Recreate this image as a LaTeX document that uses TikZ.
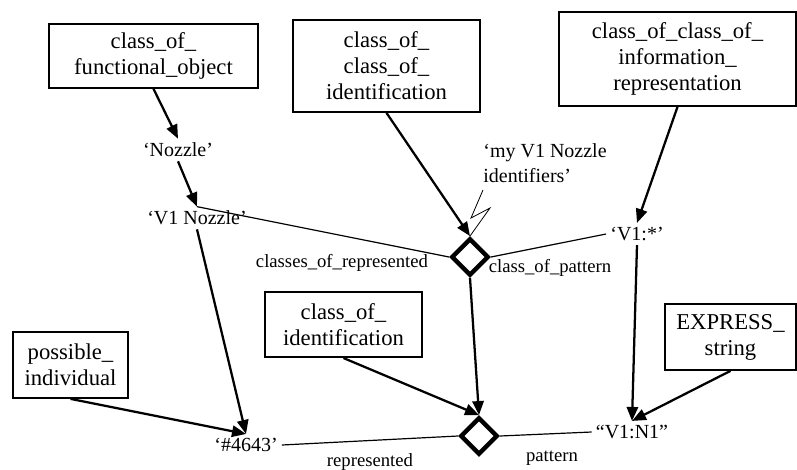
\documentclass[tikz,border=0pt]{standalone}
\usepackage{fontspec}
\setmainfont{Liberation Serif}
\usepackage{tikz}
\usetikzlibrary{arrows.meta,positioning,calc,shapes.geometric}
\tikzset{
  block/.style  = {draw, line width=1.3pt, align=center, inner sep=2pt,
                   font=\fontsize{17}{19.5}\selectfont},
  inst/.style   = {font=\fontsize{15}{18.5}\selectfont, inner sep=3pt},
  role/.style   = {font=\fontsize{14}{16}\selectfont, inner sep=1pt},
  rel/.style    = {diamond, draw, line width=3.4pt, minimum width=28pt,
                   minimum height=28pt, inner sep=0pt, fill=white},
  arr/.style    = {-{Triangle[length=10.5pt,width=8.5pt]}, line width=1.7pt},
  wire/.style   = {line width=0.9pt},
  zig/.style    = {line width=0.6pt},
}

\begin{document}
\begin{tikzpicture}[x=0.75pt,y=-0.75pt]
  \useasboundingbox (0,0) rectangle (797,469);
  % classes
  \node[block, minimum width=156.75pt, minimum height=48pt] (cfo) at (153.5,56)
    {class\_of\_\\functional\_object};
  \node[block, minimum width=140pt, minimum height=69pt] (ccid) at (386.5,66)
    {class\_of\_\\class\_of\_\\identification};
  \node[block, minimum width=178pt, minimum height=70.5pt] (ccir) at (677.5,59)
    {class\_of\_class\_of\_\\information\_\\representation};
  \node[block, minimum width=86pt, minimum height=49.5pt] (pind) at (70.5,365)
    {possible\_\\individual};
  \node[block, minimum width=118pt, minimum height=49pt] (cid) at (343.5,324.5)
    {class\_of\_\\identification};
  \node[block, minimum width=98pt, minimum height=49.5pt] (exstr) at (730.5,337)
    {EXPRESS\_\\string};
  % instances
  \node[inst] (nozzle) at (178,150) {‘Nozzle’};
  \node[inst] (vnozzle) at (197,218) {‘V1 Nozzle’};
  \node[inst, align=left] (myid) at (545,163) {‘my V1 Nozzle\\identifiers’};
  \node[inst] (vstar) at (637,234) {‘V1:*’};
  \node[inst] (num) at (246,445) {‘\#4643’};
  \node[inst] (vn1) at (632,432) {“V1:N1”};
  % relationships
  \node[rel] (cop) at (470,257) {};
  \node[rel] (pat) at (479,436) {};
  \node[role] (lcr) at (342,263) {classes\_of\_represented};
  \node[role] (lcp) at (550,268) {class\_of\_pattern};
  \node[role] (lrep) at (370,462) {represented};
  \node[role] (lpat) at (552,458) {pattern};
  % classification
  \draw[arr] (cfo.south) -- (nozzle.north);
  \draw[arr] (nozzle.south) -- (vnozzle.north);
  \draw[arr] (vnozzle.south) -- (num.north);
  \draw[arr] (pind.south) -- (num.north);
  \draw[arr] (ccid.south) -- (cop.north);
  \draw[arr] (ccir.south) -- (vstar.north);
  \draw[arr] (cop.south) -- (pat.north);
  \draw[arr] (cid.south) -- (pat.north);
  \draw[arr] (vstar.south) -- (vn1.north);
  \draw[arr] (exstr.south) -- (vn1.north);
  % role lines
  \draw[wire] (vnozzle.north) -- (cop.west);
  \draw[wire] (cop.east) -- (vstar.west);
  \draw[wire] (num.east) -- (pat.west);
  \draw[wire] (pat.east) -- (vn1.west);
  % name of the pattern
  \coordinate (zz) at (483,190);
  \draw[zig] (zz) -- ++(-12,28) -- ++(19,-10) -- (cop.north);
\end{tikzpicture}
\end{document}
